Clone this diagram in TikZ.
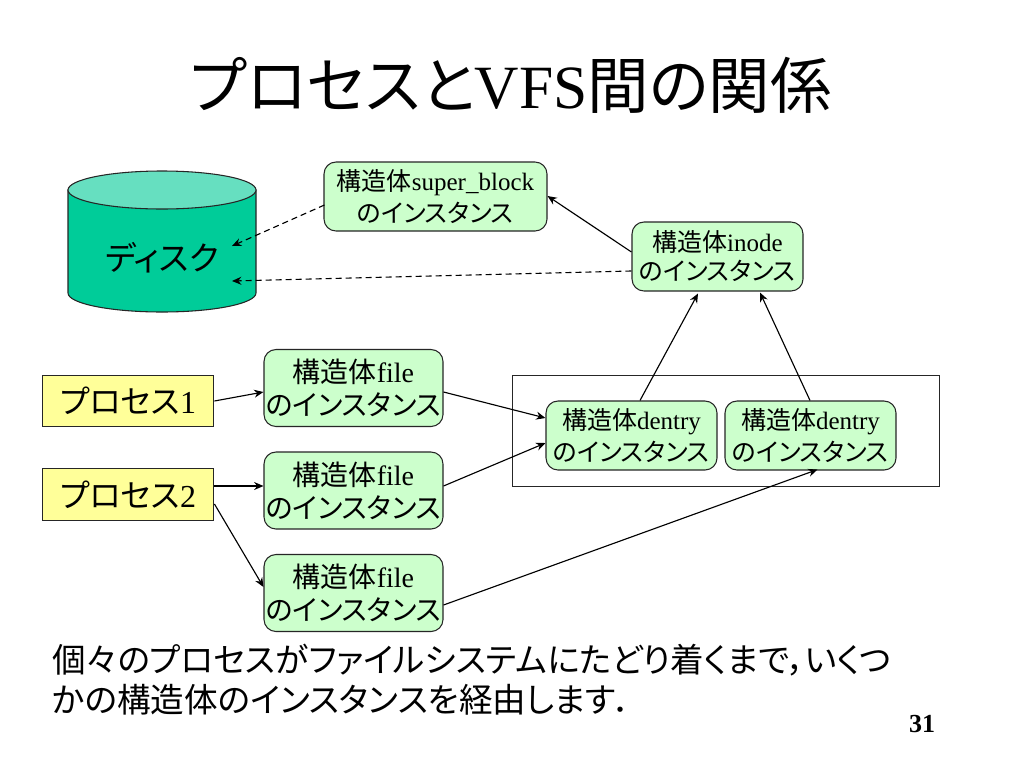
\documentclass[tikz,border=0pt]{standalone}
\usepackage{fontspec}
\setmainfont{Liberation Serif}
\newfontfamily\cjk[RawFeature={+palt}]{Noto Sans CJK JP}
\newcommand{\J}[1]{{\cjk #1}}
\newcommand{\px}[1]{\edef\pxsize{\the\dimexpr #1pt*3/4\relax}\fontsize{\pxsize}{\pxsize}\selectfont}
\usetikzlibrary{arrows.meta}
\definecolor{instgreen}{HTML}{CCFFCC}
\definecolor{procyellow}{HTML}{FFFF99}
\definecolor{diskbody}{HTML}{00CC99}
\definecolor{disktop}{HTML}{66DFC0}
\tikzset{
  tip/.style={-{Stealth[length=7pt,width=6pt]},line width=0.85pt,black},
  dashtip/.style={tip,dash pattern=on 4.5pt off 3pt},
  inst/.style={draw=black!85,fill=instgreen,rounded corners=9pt,line width=0.8pt,align=center,inner sep=0pt,text=black},
  proc/.style={draw=black!85,fill=procyellow,line width=0.8pt,inner sep=0pt,minimum width=128.5pt,minimum height=38.6pt,text=black},
  txt/.style={inner sep=0pt,align=left,text=black},
}
\begin{document}
\begin{tikzpicture}[x=0.75pt,y=-0.75pt]
\useasboundingbox (0,0) rectangle (1024,768);
\fill[white] (0,0) rectangle (1024,768);
% title
\node[txt,anchor=center] (title) at (511,85) {\px{61.5}\J{プロセスと}VFS\J{間の関係}};
% disk
\filldraw[fill=diskbody,draw=black!85,line width=0.8pt] (68,190) -- (68,293) arc[start angle=180,end angle=0,x radius=94,y radius=19] -- (256,190) -- cycle;
\filldraw[fill=disktop,draw=black!85,line width=0.8pt] (162,190) ellipse[x radius=94,y radius=19];
\node[txt] (disk) at (162,258) {\px{33}\J{ディスク}};
\coordinate (diskA) at (232,246);
\coordinate (diskB) at (232,281);
% frame
\node[draw=black!85,line width=0.7pt,minimum width=320.25pt,minimum height=83.25pt,inner sep=0pt] (frame) at (725.5,430.5) {};
% instances
\newcommand{\inst}[6]{\node[inst,minimum width=#3*0.75pt,minimum height=#4*0.75pt] (#5) at (#1,#2) {#6};}
\inst{435.5}{196.5}{223}{69}{super}{\px{25}\J{構造体}super\_block\\[4pt]\px{25}\J{のインスタンス}}
\inst{717.5}{256.5}{171}{69}{inode}{\px{25}\J{構造体}inode\\[4pt]\px{25}\J{のインスタンス}}
\inst{631.5}{435.5}{171}{69}{dentryA}{\px{25}\J{構造体}dentry\\[4pt]\px{25}\J{のインスタンス}}
\inst{810.5}{435.5}{171}{69}{dentryB}{\px{25}\J{構造体}dentry\\[4pt]\px{25}\J{のインスタンス}}
\inst{353.5}{388}{179}{77}{fileA}{\px{28}\J{構造体}file\\[5pt]\px{28}\J{のインスタンス}}
\inst{353.5}{490.5}{179}{77}{fileB}{\px{28}\J{構造体}file\\[5pt]\px{28}\J{のインスタンス}}
\inst{353.5}{593}{179}{77}{fileC}{\px{28}\J{構造体}file\\[5pt]\px{28}\J{のインスタンス}}
% processes
\node[proc] (procA) at (128.25,401) {\px{32}\J{プロセス}1};
\node[proc] (procB) at (128.25,494.5) {\px{32}\J{プロセス}2};
% connectors
\draw[tip] (procA.east) -- ([shift={(0,4)}]fileA.west);
\draw[tip] ([shift={(0,-8.5)}]procB.east) -- ([shift={(0,-4.5)}]fileB.west);
\draw[tip] ([shift={(0,9.5)}]procB.east) -- ([shift={(0,-6)}]fileC.west);
\draw[tip] ([shift={(0,4)}]fileA.east) -- ([shift={(0,-17.5)}]dentryA.west);
\draw[tip] ([shift={(0,-4.5)}]fileB.east) -- ([shift={(0,7.5)}]dentryA.west);
\draw[tip] ([shift={(0,12)}]fileC.east) -- ([shift={(7,-1)}]dentryB.south);
\draw[tip] ([shift={(8.5,0)}]dentryA.north) -- ([shift={(-19.5,2)}]inode.south);
\draw[tip] ([shift={(-0.5,0)}]dentryB.north) -- ([shift={(42.5,1)}]inode.south);
\draw[tip] ([shift={(0,-4.5)}]inode.west) -- ([shift={(0,-0.5)}]super.east);
\draw[dashtip] ([shift={(0,14.5)}]inode.west) -- (diskB);
\draw[dashtip] ([shift={(1,8.5)}]super.west) -- (diskA);
% body text
\node[txt,anchor=west] (bodyA) at (52,660) {\px{33.6}\J{個々のプロセスがファイルシステムにたどり着くまで，いくつ}};
\node[txt,anchor=west] (bodyB) at (52,700) {\px{33.6}\J{かの構造体のインスタンスを経由します．}};
\node[txt] (pagenum) at (922,724) {\px{26}\textbf{31}};
\end{tikzpicture}
\end{document}
